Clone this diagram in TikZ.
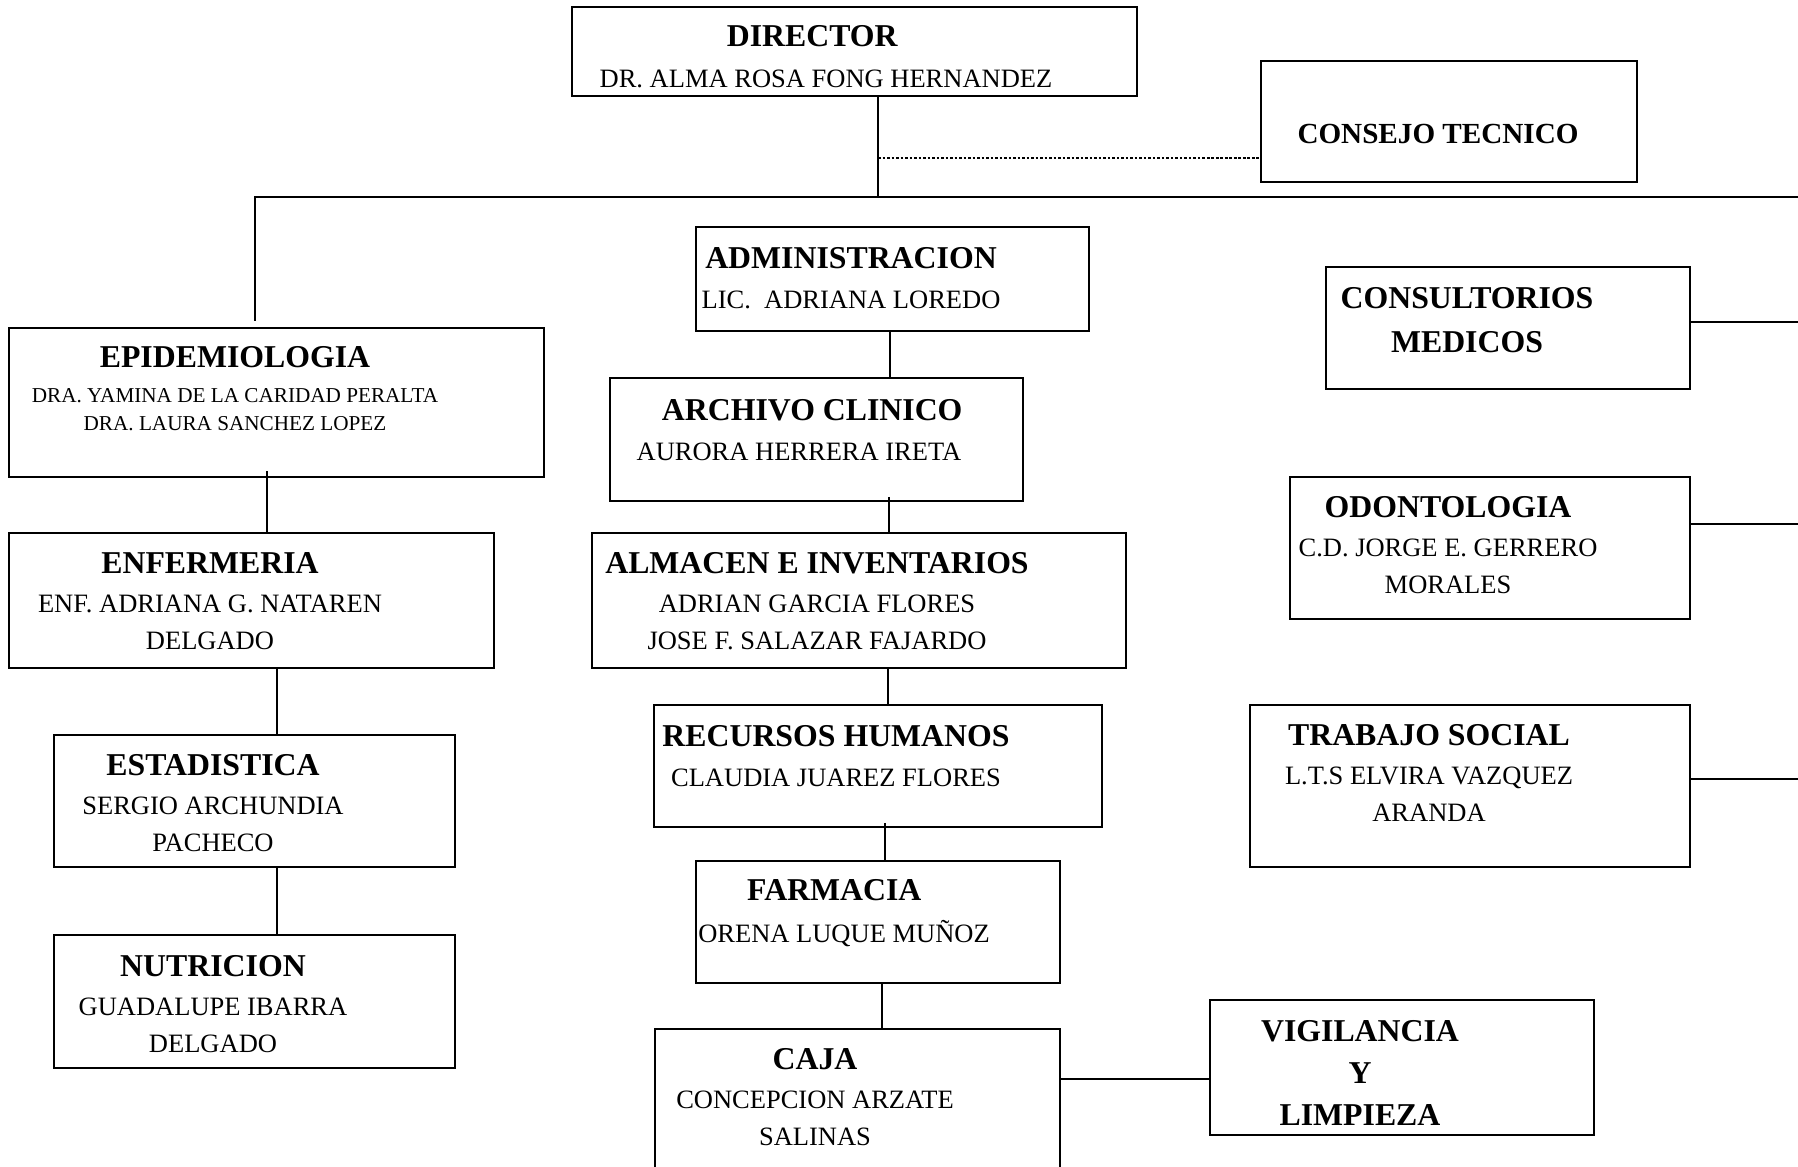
\documentclass[tikz,border=0pt]{standalone}
\usepackage{fontspec}
\setmainfont{Liberation Serif}
\usetikzlibrary{fit}

\newcommand{\unittitle}{\fontsize{12}{14}\selectfont\bfseries}

\tikzset{
  unitbox/.style={draw, line width=0.8pt, inner sep=0pt},
  unittext/.style={align=center, inner sep=0pt, font=\fontsize{10}{14}\selectfont},
  link/.style={line width=0.6pt}
}

\begin{document}
\begin{tikzpicture}[x=0.3774pt, y=-0.3774pt]
  \useasboundingbox (0,0) rectangle (1798,1166);

  % boxes
  \node[unitbox, fit={(572,7) (1137,96)}] (dir) {};
  \node[unitbox, fit={(1261,61) (1637,182)}] (tec) {};
  \node[unitbox, fit={(9,328) (544,477)}] (epi) {};
  \node[unitbox, fit={(9,533) (494,668)}] (enf) {};
  \node[unitbox, fit={(54,735) (455,867)}] (est) {};
  \node[unitbox, fit={(54,935) (455,1068)}] (nut) {};
  \node[unitbox, fit={(696,227) (1089,331)}] (adm) {};
  \node[unitbox, fit={(610,378) (1023,501)}] (arc) {};
  \node[unitbox, fit={(592,533) (1126,668)}] (alm) {};
  \node[unitbox, fit={(654,705) (1102,827)}] (rh) {};
  \node[unitbox, fit={(696,861) (1060,983)}] (far) {};
  \node[unitbox, fit={(655,1029) (1060,1200)}] (caja) {};
  \node[unitbox, fit={(1210,1000) (1594,1135)}] (vig) {};
  \node[unitbox, fit={(1326,267) (1690,389)}] (cons) {};
  \node[unitbox, fit={(1290,477) (1690,619)}] (odo) {};
  \node[unitbox, fit={(1250,705) (1690,867)}] (ts) {};

  % texts
  \node[unittext] (dirT) at (826,57) {{\unittitle DIRECTOR}\hspace{10.4pt}\mbox{}\\[1.5pt] DR. ALMA ROSA FONG HERNANDEZ};
  \node[unittext, font=\fontsize{11}{14}\selectfont\bfseries] (tecT) at (1438,134) {CONSEJO TECNICO};
  \node[unittext, font=\fontsize{8}{10.8}\selectfont] (epiT) at (235,389) {{\unittitle EPIDEMIOLOGIA}\\[2.2pt] DRA. YAMINA DE LA CARIDAD PERALTA\\ DRA. LAURA SANCHEZ LOPEZ};
  \node[unittext] (enfT) at (210,601) {{\unittitle ENFERMERIA}\\[0.7pt] ENF. ADRIANA G. NATAREN\\ DELGADO};
  \node[unittext] (estT) at (213,803) {{\unittitle ESTADISTICA}\\[0.7pt] SERGIO ARCHUNDIA\\ PACHECO};
  \node[unittext] (nutT) at (213,1004) {{\unittitle NUTRICION}\\[0.7pt] GUADALUPE IBARRA\\ DELGADO};
  \node[unittext] (admT) at (851,278) {{\unittitle ADMINISTRACION}\\[1pt] LIC.\ \ ADRIANA LOREDO};
  \node[unittext] (arcT) at (799,430) {\hspace{10pt}{\unittitle ARCHIVO CLINICO}\\[1pt] AURORA HERRERA IRETA};
  \node[unittext] (almT) at (817,601) {{\unittitle ALMACEN E INVENTARIOS}\\[0.7pt] ADRIAN GARCIA FLORES\\ JOSE F. SALAZAR FAJARDO};
  \node[unittext] (rhT) at (836,756) {{\unittitle RECURSOS HUMANOS}\\[1pt] CLAUDIA JUAREZ FLORES};
  \node[unittext] (farT) at (844,913) {{\unittitle FARMACIA}\hspace{7.3pt}\mbox{}\\[1.6pt] ORENA LUQUE MUÑOZ};
  \node[unittext] (cajaT) at (815,1097) {{\unittitle CAJA}\\[0.7pt] CONCEPCION ARZATE\\ SALINAS};
  \node[unittext, font=\fontsize{12}{16}\selectfont\bfseries] (vigT) at (1360,1073) {VIGILANCIA\\ Y\\ LIMPIEZA};
  \node[unittext, font=\fontsize{12}{16.4}\selectfont\bfseries] (consT) at (1467,320) {CONSULTORIOS\\ MEDICOS};
  \node[unittext] (odoT) at (1448,545) {{\unittitle ODONTOLOGIA}\\[0.7pt] C.D. JORGE E. GERRERO\\ MORALES};
  \node[unittext] (tsT) at (1429,773) {{\unittitle TRABAJO SOCIAL}\\[0.7pt] L.T.S ELVIRA VAZQUEZ\\ ARANDA};

  % connectors
  \coordinate (bus) at (878,197);
  \coordinate (busL) at (255,197);
  \coordinate (busR) at (1798,197);
  \draw[link] (dir.south -| bus) -- (bus);
  \draw[link, shorten <=2.3pt] (epi.north -| busL) -- (busL) -- (busR);
  \draw[link, line width=1pt, dash pattern=on 1pt off 0.7pt] (bus |- 0,158) -- (tec.west |- 0,158);
  \foreach \a/\b/\x/\s in {epi/enf/267/-2.6pt, enf/est/277/0pt, est/nut/277/0pt, adm/arc/890/0pt,
                           arc/alm/889/-2pt, alm/rh/888/0pt, rh/far/885/-2pt, far/caja/882/0pt}
    \draw[link, shorten <=\s] (\a.south -| \x,0) -- (\b.north -| \x,0);
  \draw[link] (caja.east |- 0,1079) -- (vig.west |- 0,1079);
  \foreach \n/\y in {cons/322, odo/524, ts/779} {
    \coordinate (\n end) at (1798,\y);
    \draw[link] (\n.east |- \n end) -- (\n end);
  }
\end{tikzpicture}
\end{document}
